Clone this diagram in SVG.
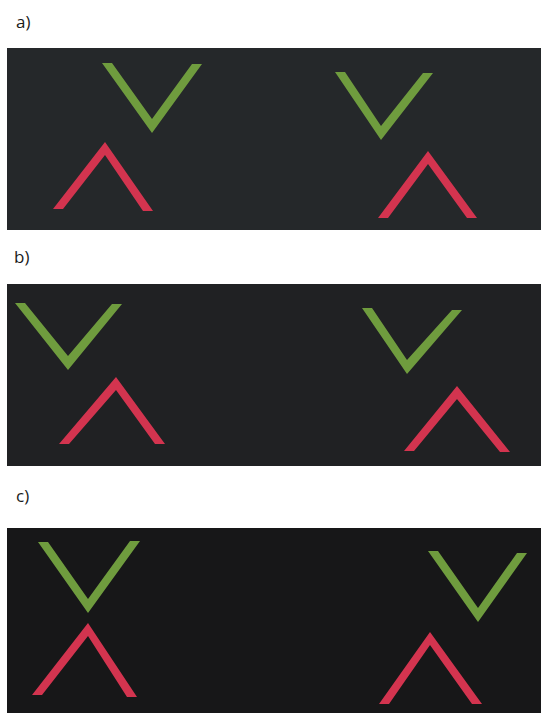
<svg xmlns="http://www.w3.org/2000/svg" width="541" height="713" viewBox="0 0 541 713">
<style>
.lbl{font-family:"Open Sans","Liberation Sans",sans-serif;font-size:17px;fill:#1a1a1a}
.g{fill:#6f9c3e}
.r{fill:#d3344f}
</style>
<rect width="541" height="713" fill="#fff"/>
<g id="panel-a">
<text class="lbl" x="16" y="28">a)</text>
<rect x="7" y="48" width="534" height="182" fill="#25282a"/>
<polygon class="g" points="102,63 112,63 152,119 192,64 202,64 152,133"/>
<polygon class="r" points="53,209 105,142 153,211 143,211 105,155 63,209"/>
<polygon class="g" points="335,72 345,72 381,126 423,73 433,73 381,140"/>
<polygon class="r" points="378,218 428,151 477,218 467,218 428,164 388,218"/>
</g>
<g id="panel-b">
<text class="lbl" x="14" y="263">b)</text>
<rect x="7" y="284" width="534" height="182" fill="#202123"/>
<polygon class="g" points="15,303 25,303 68,356 112,304 122,304 68,370"/>
<polygon class="r" points="59,444 116,377 165,444 155,444 116,390 69,444"/>
<polygon class="g" points="362,308 372,308 407,360 452,310 462,310 407,374"/>
<polygon class="r" points="404,451 457,386 510,452 500,452 457,399 414,451"/>
</g>
<g id="panel-c">
<text class="lbl" x="16" y="502">c)</text>
<rect x="7" y="528" width="534" height="185" fill="#171718"/>
<polygon class="g" points="38,542 48,542 88,599 130,541 140,541 88,613"/>
<polygon class="r" points="32,695 88,623 137,697 127,697 88,636 42,695"/>
<polygon class="g" points="428,551 438,551 478,608 517,553 527,553 478,622"/>
<polygon class="r" points="379,704 430,632 482,704 472,704 430,645 389,704"/>
</g>
</svg>
